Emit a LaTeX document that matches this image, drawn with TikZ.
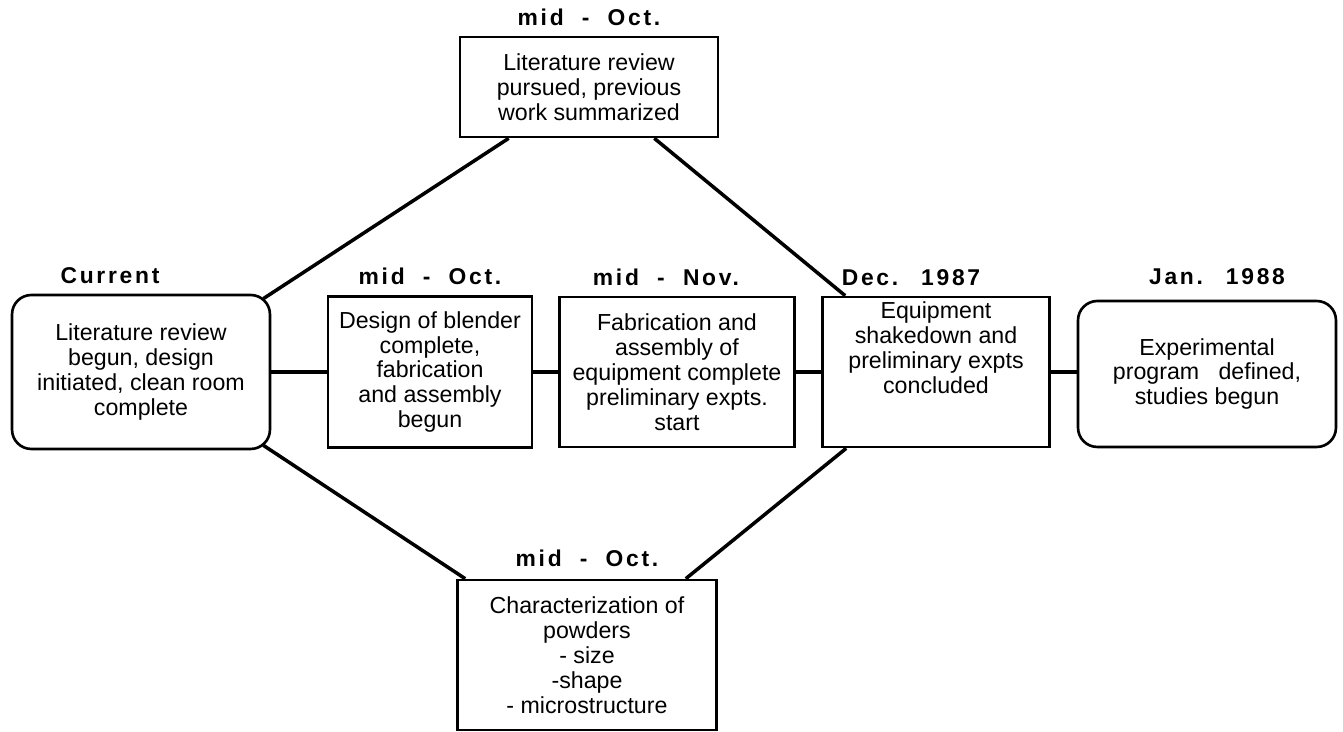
\documentclass[tikz,border=0pt]{standalone}
\usepackage{fontspec}
\setmainfont{Liberation Sans}
\usetikzlibrary{positioning, calc}

\begin{document}
\begin{tikzpicture}[
    x=0.02cm, y=-0.02cm,
    box/.style={draw, line width=1.5pt, align=center, inner sep=0pt, font=\fontsize{13.2}{14.2}\selectfont},
    stage/.style={box, rounded corners=11pt},
    datelbl/.style={inner sep=0pt, font=\fontsize{13}{14}\selectfont\bfseries\addfontfeature{LetterSpace=12}},
    link/.style={line width=2pt}
]
\useasboundingbox (0,0) rectangle (1343,732);

% Milestones
\node[stage, minimum width=5.16cm, minimum height=3.08cm] (current) at (141,372) {Literature review\\begun, design\\initiated, clean room\\complete};
\node[box, minimum width=4.08cm, minimum height=3.02cm] (design) at (430,372) {Design of blender\\complete,\\fabrication\\and assembly\\begun};
\node[box, minimum width=4.7cm, minimum height=3.0cm] (fab) at (677,372) {Fabrication and\\assembly of\\equipment complete\\preliminary expts.\\start};
\node[box, minimum width=4.54cm, minimum height=3.0cm] (equip) at (936,372) {Equipment\\shakedown and\\preliminary expts\\concluded\\[14pt]\mbox{}};
\node[stage, minimum width=5.16cm, minimum height=2.92cm] (expt) at (1207,374) {Experimental\\program\ \ \ defined,\\studies begun};
\node[box, minimum width=5.16cm, minimum height=2.0cm] (review) at (589,87) {Literature review\\pursued, previous\\work summarized};
\node[box, minimum width=5.18cm, minimum height=3.0cm] (powders) at (587,655) {Characterization of\\powders\\- size\\-shape\\- microstructure};

% Dates
\node[datelbl, above=0.2cm of current, xshift=-0.62cm] (currentdate) {Current};
\node[datelbl, above=0.2cm of design] (designdate) {mid\ \ -\ \ Oct.};
\node[datelbl, above=0.2cm of fab, xshift=-0.22cm] (fabdate) {mid\ \ -\ \ Nov.};
\node[datelbl, above=0.2cm of equip, xshift=-0.5cm] (equipdate) {Dec.\hspace{1em}1987};
\node[datelbl, above=0.3cm of expt, xshift=0.2cm] (exptdate) {Jan.\hspace{1em}1988};
\node[datelbl, above=0.2cm of review] (reviewdate) {mid\ \ -\ \ Oct.};
\node[datelbl, above=0.24cm of powders] (powderdate) {mid\ \ -\ \ Oct.};

% Main line
\draw[link] (current.east) -- (current.east -| design.west);
\draw[link] (design.east) -- (design.east -| fab.west);
\draw[link] (fab.east) -- (fab.east -| equip.west);
\draw[link] (equip.east) -- (equip.east -| expt.west);

% Parallel paths
\draw[link] ($(current.north east)+(-8,5)$) -- ($(review.south west)+(50,0)$);
\draw[link] ($(review.south east)+(-65,0)$) -- ($(equip.north west)+(24,0)$);
\draw[link] ($(current.south east)+(-8,-5)$) -- ($(powders.north west)+(9,0)$);
\draw[link] ($(equip.south west)+(25,0)$) -- ($(powders.north east)+(-32,0)$);

\end{tikzpicture}
\end{document}
